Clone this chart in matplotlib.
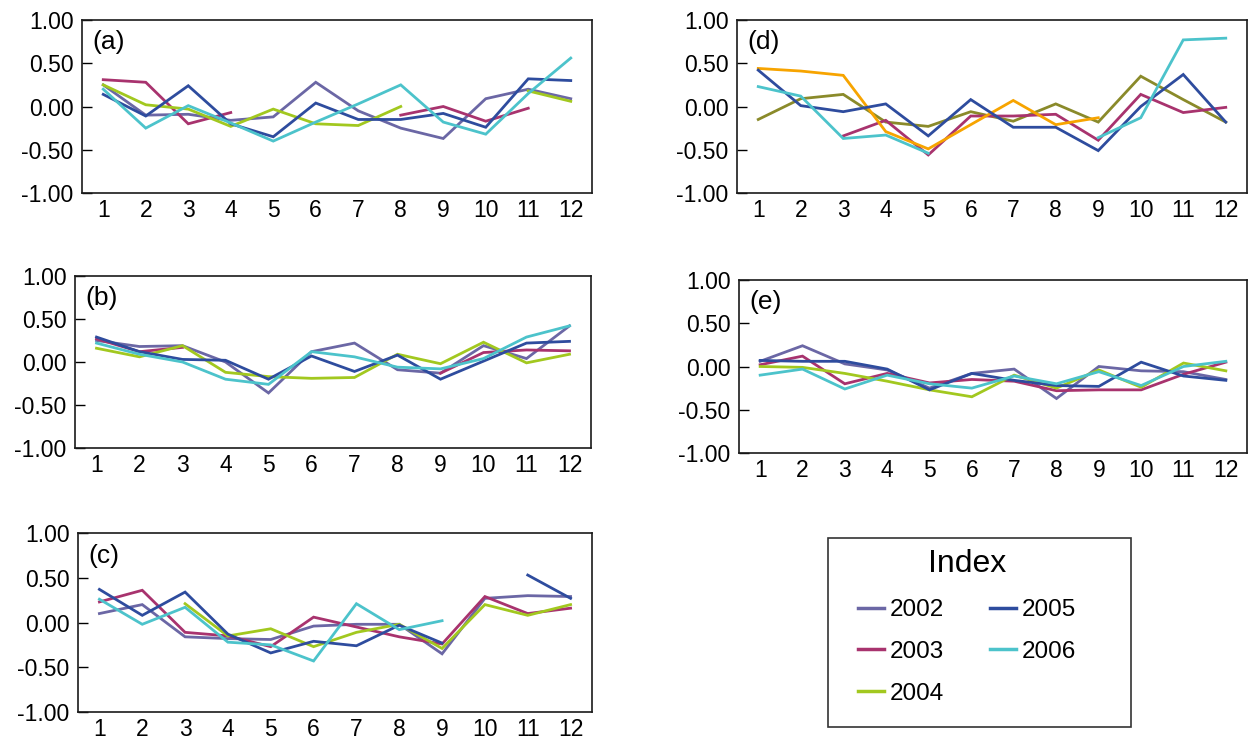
import numpy as np
import matplotlib
matplotlib.use('Agg')
import matplotlib.pyplot as plt
from matplotlib.patches import Rectangle
from matplotlib.lines import Line2D

plt.rcParams['font.family'] = ['Liberation Sans', 'DejaVu Sans']

nan = np.nan
months = list(range(1, 13))
years = ['2002', '2003', '2004', '2005', '2006']

# panel (a)
a_2002 = [0.25, -0.10, -0.09, -0.16, -0.12, 0.28, -0.05, -0.25, -0.37, 0.09, 0.20, 0.09]
a_2003 = [0.31, 0.28, -0.20, -0.07, nan, nan, nan, -0.10, 0.00, -0.17, -0.02, nan]
a_2004 = [0.25, 0.02, -0.03, -0.23, -0.03, -0.20, -0.22, 0.00, nan, nan, 0.18, 0.06]
a_2005 = [0.14, -0.11, 0.24, -0.20, -0.35, 0.04, -0.15, -0.15, -0.08, -0.24, 0.32, 0.30]
a_2006 = [0.20, -0.25, 0.01, -0.19, -0.40, -0.18, 0.03, 0.25, -0.18, -0.32, 0.15, 0.56]

# panel (b)
b_2002 = [0.25, 0.18, 0.19, 0.00, -0.36, 0.12, 0.22, -0.09, -0.13, 0.19, 0.04, 0.42]
b_2003 = [0.27, 0.12, 0.17, nan, nan, nan, nan, nan, -0.13, 0.11, 0.14, 0.13]
b_2004 = [0.16, 0.06, 0.19, -0.12, -0.17, -0.19, -0.18, 0.09, -0.02, 0.23, -0.01, 0.09]
b_2005 = [0.29, 0.12, 0.03, 0.02, -0.20, 0.07, -0.11, 0.08, -0.20, 0.01, 0.22, 0.24]
b_2006 = [0.22, 0.09, 0.00, -0.20, -0.26, 0.12, 0.06, -0.06, -0.08, 0.04, 0.29, 0.42]

# panel (c)
c_2002 = [0.10, 0.20, -0.16, -0.18, -0.19, -0.04, -0.02, -0.02, -0.35, 0.27, 0.30, 0.29]
c_2003 = [0.23, 0.36, -0.11, -0.15, -0.27, 0.06, -0.05, -0.16, -0.24, 0.29, 0.10, 0.16]
c_2004 = [nan, nan, 0.21, -0.15, -0.07, -0.27, -0.11, -0.02, -0.29, 0.20, 0.08, 0.20]
c_2005 = [0.37, 0.08, 0.34, -0.13, -0.34, -0.21, -0.26, -0.03, -0.23, nan, 0.53, 0.27]
c_2006 = [0.26, -0.02, 0.17, -0.22, -0.25, -0.43, 0.21, -0.08, 0.02, nan, nan, nan]

# panel (d)
d_2002 = [-0.15, 0.09, 0.14, -0.18, -0.23, -0.06, -0.17, 0.03, -0.18, 0.35, 0.08, -0.18]
d_2003 = [nan, nan, -0.34, -0.16, -0.56, -0.11, -0.11, -0.09, -0.39, 0.14, -0.07, -0.01]
d_2004 = [0.44, 0.41, 0.36, -0.29, -0.49, -0.21, 0.07, -0.21, -0.13, nan, nan, nan]
d_2005 = [0.42, 0.01, -0.06, 0.03, -0.34, 0.08, -0.24, -0.24, -0.51, 0.00, 0.37, -0.18]
d_2006 = [0.23, 0.12, -0.37, -0.33, -0.54, nan, nan, nan, -0.36, -0.13, 0.77, 0.79]

# panel (e)
e_2002 = [0.06, 0.24, 0.03, -0.04, -0.25, -0.08, -0.03, -0.37, 0.00, -0.05, -0.06, -0.15]
e_2003 = [0.02, 0.12, -0.20, -0.08, -0.19, -0.15, -0.17, -0.28, -0.27, -0.27, -0.09, 0.05]
e_2004 = [0.00, -0.01, -0.08, -0.17, -0.27, -0.35, -0.10, -0.25, -0.04, -0.24, 0.04, -0.05]
e_2005 = [0.07, 0.06, 0.06, -0.03, -0.27, -0.08, -0.16, -0.22, -0.23, 0.05, -0.11, -0.16]
e_2006 = [-0.10, -0.03, -0.26, -0.10, -0.20, -0.25, -0.11, -0.20, -0.06, -0.22, 0.00, 0.06]

colors = ['#6B67A5', '#A8336E', '#A2C81F', '#2E4C9E', '#4CC3CB']
colors_d = ['#8A8A2A', '#A8336E', '#F7A400', '#2E4C9E', '#4CC3CB']

yticks = [-1.0, -0.5, 0.0, 0.5, 1.0]
W, H = 1255, 741

fig = plt.figure(figsize=(12.55, 7.41), dpi=100, facecolor='white')


def px_axes(x0, x1, y0, y1):
    return fig.add_axes([x0 / W, 1 - y1 / H, (x1 - x0) / W, (y1 - y0) / H])


def draw_panel(ax, series, cols, label):
    for vals, c in zip(series, cols):
        ax.plot(months, vals, color=c, lw=2, solid_joinstyle='miter')
    ax.set_xlim(0.5, 12.5)
    ax.set_ylim(-1, 1)
    ax.set_xticks(months)
    ax.set_yticks(yticks)
    ax.set_yticklabels(['%.2f' % v for v in yticks])
    ax.tick_params(axis='y', direction='in', length=7, width=1, labelsize=16.5, pad=6)
    ax.tick_params(axis='x', length=0, labelsize=16.5, pad=4)
    for s in ax.spines.values():
        s.set_linewidth(1.2)
        s.set_color('#1a1a1a')
    ax.text(0.02, 0.94, label, transform=ax.transAxes, fontsize=19, va='top', ha='left')


ax_a = px_axes(82, 592, 20, 193)
draw_panel(ax_a, [a_2002, a_2003, a_2004, a_2005, a_2006], colors, '(a)')
ax_b = px_axes(75, 591, 276, 448)
draw_panel(ax_b, [b_2002, b_2003, b_2004, b_2005, b_2006], colors, '(b)')
ax_c = px_axes(78, 592, 533, 712)
draw_panel(ax_c, [c_2002, c_2003, c_2004, c_2005, c_2006], colors, '(c)')
ax_d = px_axes(737, 1247, 20, 193)
draw_panel(ax_d, [d_2002, d_2003, d_2004, d_2005, d_2006], colors_d, '(d)')
ax_e = px_axes(739, 1247, 280, 453)
draw_panel(ax_e, [e_2002, e_2003, e_2004, e_2005, e_2006], colors, '(e)')

# legend box
fig.patches.append(Rectangle((828 / W, 1 - 727 / H), (1131 - 828) / W, (727 - 538) / H,
                             transform=fig.transFigure, facecolor='white',
                             edgecolor='#333333', lw=1.2))
handles = [Line2D([0], [0], color=c, lw=2.5) for c in colors]
leg = fig.legend(handles, years, loc='center', bbox_to_anchor=(967 / W, 1 - 627 / H),
                 ncol=2, frameon=False, fontsize=17.5, title='Index', title_fontsize=23,
                 handlelength=1.07, handletextpad=0.22, columnspacing=1.9, labelspacing=0.82)

fig.savefig('out.png', dpi=100, facecolor='white')
